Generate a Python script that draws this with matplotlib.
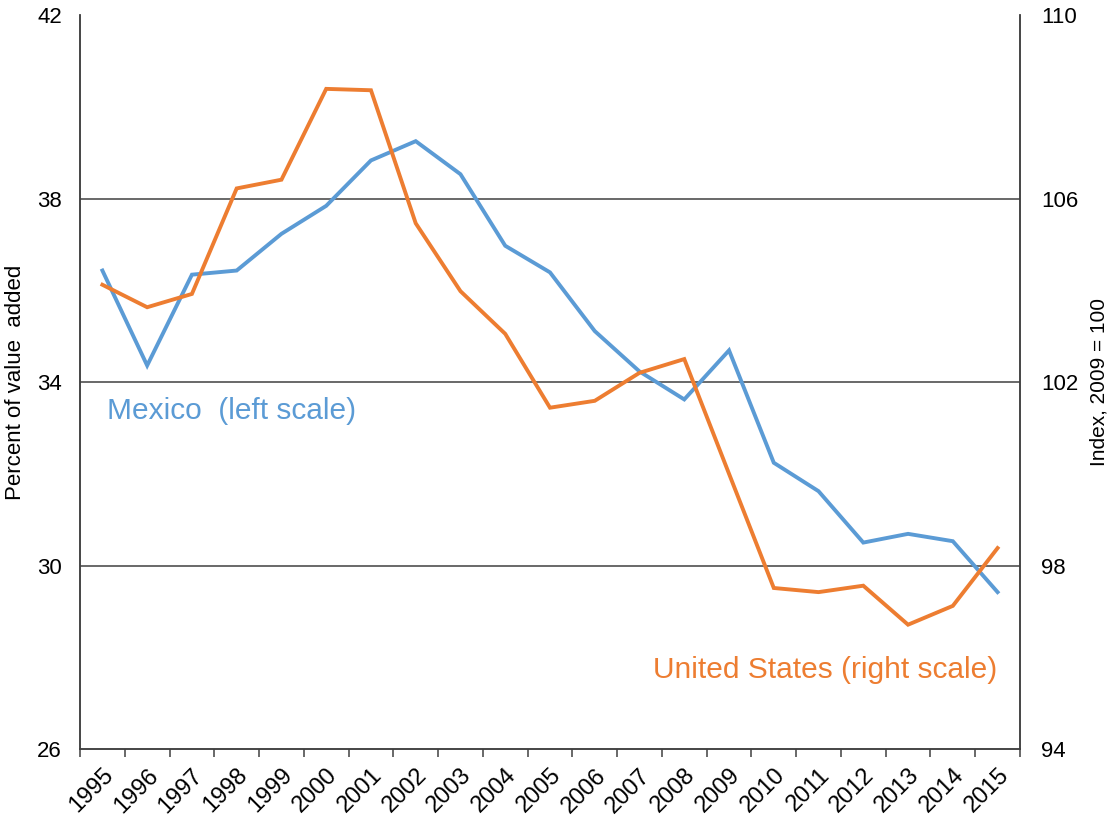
"""Mexico vs Estados Unidos: participacion y serie indice, doble eje."""

import matplotlib

matplotlib.use("Agg")
import matplotlib.pyplot as plt  # noqa: E402
from matplotlib import font_manager  # noqa: E402

plt.rcParams["font.family"] = ["Liberation Sans", "DejaVu Sans"]

ANIOS = [str(a) for a in range(1995, 2016)]
MEXICO = [36.43, 34.36, 36.34, 36.43, 37.23, 37.84, 38.83, 39.25, 38.53, 36.97,
          36.39, 35.11, 34.23, 33.62, 34.69, 32.24, 31.62, 30.50, 30.69, 30.53, 29.42]
ESTADOS_UNIDOS = [104.12, 103.63, 103.92, 106.22, 106.41, 108.39, 108.36, 105.46,
                  103.98, 103.05, 101.44, 101.59, 102.20, 102.50, 100.0, 97.51,
                  97.42, 97.56, 96.71, 97.12, 98.38]
TICKS_IZQ = [26, 30, 34, 38, 42]
TICKS_DER = [94, 98, 102, 106, 110]

COLOR_MEX = "#5B9BD5"
COLOR_EEUU = "#ED7D31"
COLOR_EJE = "#404040"

# fuente angosta para la etiqueta del eje derecho, si existe
nombres = {f.name for f in font_manager.fontManager.ttflist}
FUENTE_ANGOSTA = "Liberation Sans Narrow" if "Liberation Sans Narrow" in nombres else "Liberation Sans"

fig = plt.figure(figsize=(11.13, 8.16), dpi=100)
ax = fig.add_axes([0.0719, 0.0821, 0.8445, 0.8995])
ax2 = ax.twinx()

x = list(range(len(ANIOS)))
ax.plot(x, MEXICO, color=COLOR_MEX, lw=2.8, solid_joinstyle="miter")
ax2.plot(x, ESTADOS_UNIDOS, color=COLOR_EEUU, lw=2.8, solid_joinstyle="miter")

ax.set_xlim(-0.5, len(ANIOS) - 0.5)
ax.set_ylim(26, 42)
ax2.set_ylim(94, 110)

ax.set_yticks(TICKS_IZQ)
ax2.set_yticks(TICKS_DER)
for t in TICKS_IZQ[1:-1]:
    ax.axhline(t, color=COLOR_EJE, lw=1.1, zorder=0)

ax.set_xticks(x)
ax.set_xticklabels(ANIOS, rotation=45, ha="right", rotation_mode="anchor")
ax.set_xticks([i - 0.5 for i in range(len(ANIOS) + 1)], minor=True)
ax.tick_params(axis="x", which="major", length=0, pad=11, labelsize=17)
ax.tick_params(axis="x", which="minor", length=6, width=1.1, color=COLOR_EJE)
ax.tick_params(axis="y", length=0, pad=13, labelsize=16)
ax2.tick_params(axis="y", length=0, pad=15, labelsize=16)

for eje in (ax, ax2):
    eje.spines["top"].set_visible(False)
    for lado in ("left", "right", "bottom"):
        eje.spines[lado].set_color(COLOR_EJE)
        eje.spines[lado].set_linewidth(1.1)

ax.set_ylabel("Percent of value  added", fontsize=16, labelpad=8)
ax2.set_ylabel("Index, 2009 = 100", fontsize=15, labelpad=8, family=FUENTE_ANGOSTA)

ax.text(0.1, 33.36, "Mexico  (left scale)", color=COLOR_MEX, fontsize=21.5, va="center")
ax2.text(20.0, 95.73, "United States (right scale)", color=COLOR_EEUU, fontsize=21.5,
         ha="right", va="center")

fig.savefig("out.png", dpi=100)
plt.close(fig)
